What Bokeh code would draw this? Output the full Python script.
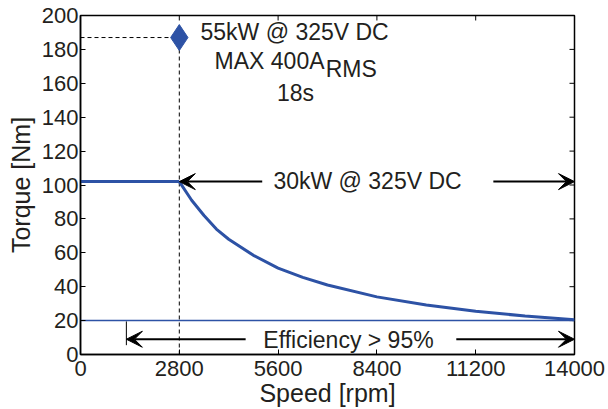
from bokeh.plotting import figure
from bokeh.models import Range1d, FixedTicker, Arrow, VeeHead, Label
from bokeh.embed import file_html
from bokeh.resources import INLINE

# ---- data ----
const_speed = [0, 2800]
const_torque = [102, 102]
fw_speed = [2800, 3150, 3500, 3850, 4200, 4900, 5600, 6300, 7000, 8400, 9800, 11200, 12600, 14000]
fw_torque = [102, 91, 82, 74, 68, 58.5, 51, 45.5, 41, 34, 29.2, 25.5, 22.7, 20.5]
eff_speed = [0, 14000]
eff_torque = [20, 20]
peak_speed = [2800]
peak_torque = [187]
x_ticks = [0, 2800, 5600, 8400, 11200, 14000]
y_ticks = [0, 20, 40, 60, 80, 100, 120, 140, 160, 180, 200]

BLUE = "#2d52a5"
FONT = "Liberation Sans"
FS = "23px"
TXT = "#231f20"
X0, X1, Y0, Y1 = 0, 14000, 0, 200

p = figure(width=608, height=409, output_backend="svg", toolbar_location=None,
           x_range=Range1d(X0, X1), y_range=Range1d(Y0, Y1),
           min_border_left=80, min_border_right=34, min_border_top=15, min_border_bottom=54)
p.grid.visible = False
p.outline_line_color = "black"
p.outline_line_width = 1.5
p.background_fill_color = "white"
p.border_fill_color = "white"

for ax in p.xaxis + p.yaxis:
    ax.major_tick_in = 5
    ax.major_tick_out = 0
    ax.minor_tick_line_color = None
    ax.axis_line_width = 1.5
    ax.major_tick_line_width = 1
    ax.major_label_text_font = FONT
    ax.major_label_text_font_size = "22px"
    ax.major_label_text_color = TXT
    ax.axis_label_text_font = FONT
    ax.axis_label_text_font_size = "25px"
    ax.axis_label_text_font_style = "normal"
    ax.axis_label_text_color = TXT

p.xaxis.ticker = FixedTicker(ticks=x_ticks)
p.yaxis.ticker = FixedTicker(ticks=y_ticks)
p.xaxis.axis_label = "Speed [rpm]"
p.yaxis.axis_label = "Torque [Nm]"
p.xaxis.major_label_standoff = 6
p.yaxis.major_label_standoff = 2
p.xaxis.axis_label_standoff = 0
p.yaxis.axis_label_standoff = 4

# inward ticks on the top and right edges of the box
tx = (X1 - X0) * 5 / 494
ty = (Y1 - Y0) * 5 / 340
p.segment(x0=x_ticks, y0=[Y1] * len(x_ticks), x1=x_ticks, y1=[Y1 - ty] * len(x_ticks),
          line_color="black", line_width=1)
p.segment(x0=[X1] * len(y_ticks), y0=y_ticks, x1=[X1 - tx] * len(y_ticks), y1=y_ticks,
          line_color="black", line_width=1)

# dashed guide lines to the peak point
p.line([X0, peak_speed[0]], [peak_torque[0], peak_torque[0]], line_color="black",
       line_dash="4 3", line_width=1)
p.line([peak_speed[0], peak_speed[0]], [Y0, peak_torque[0]], line_color="black",
       line_dash="4 3", line_width=1)

# efficiency line
p.line(eff_speed, eff_torque, line_color=BLUE, line_width=1.5)
# torque curve
p.line(const_speed, const_torque, line_color=BLUE, line_width=3)
p.line(fw_speed, fw_torque, line_color=BLUE, line_width=3)
# peak marker
p.scatter(peak_speed, peak_torque, marker="diamond", size=26, fill_color=BLUE, line_color=BLUE)

def arrow(x0, y0, x1, y1):
    p.add_layout(Arrow(end=VeeHead(size=16, fill_color="black", line_color="black"),
                       x_start=x0, y_start=y0, x_end=x1, y_end=y1,
                       line_color="black", line_width=2))

# 30 kW arrows
arrow(5150, 102, 2800, 102)
arrow(11700, 102, 14000, 102)
# efficiency arrows
arrow(4680, 9, 1300, 9)
arrow(10650, 9, 14000, 9)
# efficiency left bar
p.line([1300, 1300], [5.5, 19.5], line_color="black", line_width=1)

def lbl(x, y, t, align="left", size=FS):
    p.add_layout(Label(x=x, y=y, text=t, text_align=align, text_baseline="middle",
                       text_font=FONT, text_font_size=size, text_color=TXT))

lbl(3400, 190, "55kW @ 325V DC")
lbl(3800, 173, "MAX 400A")
lbl(6950, 168.5, "RMS")
lbl(6093, 154.5, "18s", align="center")
lbl(8134, 102.4, "30kW @ 325V DC", align="center")
lbl(7595, 8.8, "Efficiency > 95%", align="center")

open("out.html", "w").write(file_html(p, INLINE))
